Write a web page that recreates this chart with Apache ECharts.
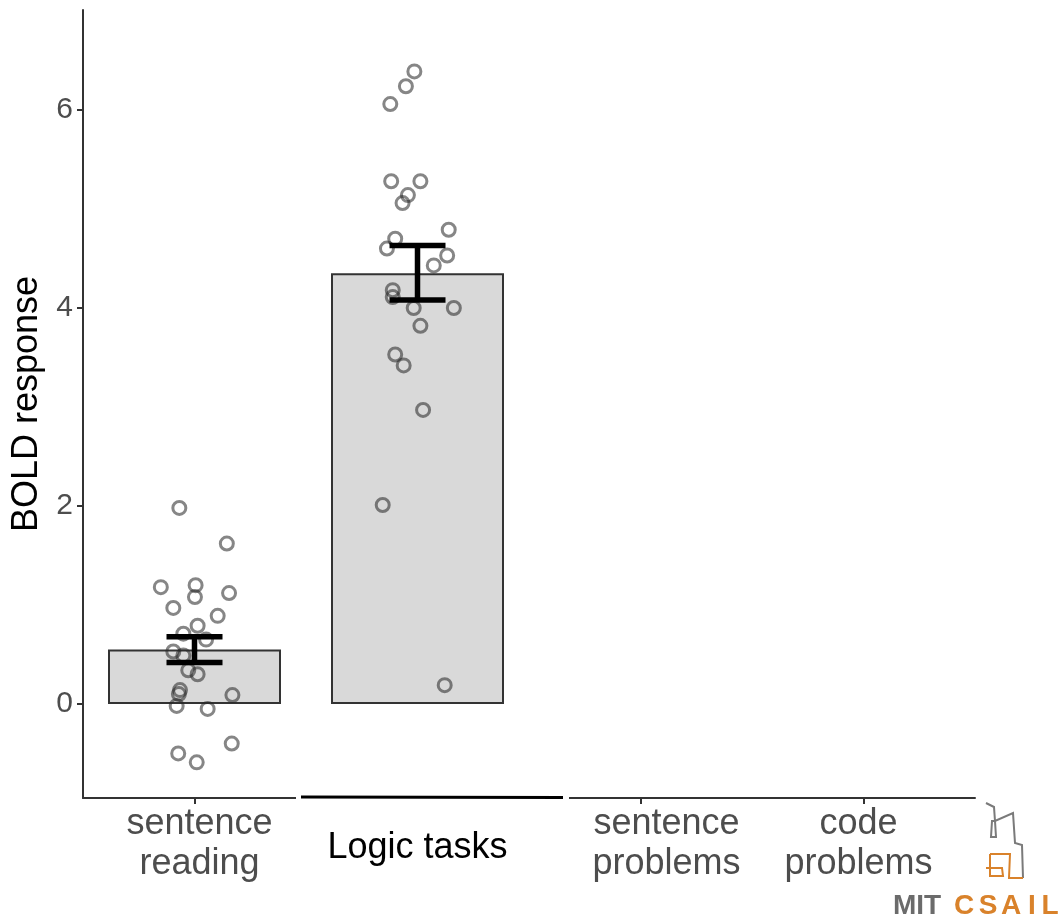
<!DOCTYPE html>
<html>
<head>
<meta charset="utf-8">
<title>BOLD response by condition</title>
<script src="https://cdn.jsdelivr.net/npm/echarts@6/dist/echarts.min.js"></script>
<style>
  html, body { margin: 0; padding: 0; background: #ffffff; }
  #chart { width: 1061px; height: 924px; }
</style>
</head>
<body>
<div id="chart"></div>
<script>
// Conditions along the x axis
const categories = ['sentence\nreading', 'Logic tasks', 'sentence\nproblems', 'code\nproblems'];

// Group means (bar heights) and standard-error limits
const barMeans = [0.55, 4.35, null, null];
const errLow = [0.42, 4.08];
const errHigh = [0.68, 4.63];

// Individual participants: response values and horizontal jitter (in category widths)
const readingValues = [1.98, 1.62, 1.18, 1.20, 1.08, 1.12, 0.97, 0.89, 0.79, 0.71, 0.65, 0.53,
  0.49, 0.34, 0.30, 0.14, 0.10, 0.09, -0.02, -0.05, -0.40, -0.50, -0.59];
const readingJitter = [-0.068, 0.145, -0.151, 0.005, 0.002, 0.155, -0.095, 0.104, 0.014, -0.050, 0.052, -0.095,
  -0.050, -0.028, 0.014, -0.065, -0.070, 0.170, -0.080, 0.059, 0.167, -0.073, 0.010];
const logicValues = [6.39, 6.24, 6.06, 5.28, 5.28, 5.14, 5.06, 4.79, 4.70, 4.60, 4.53, 4.43,
  4.18, 4.11, 4.00, 4.00, 3.82, 3.53, 3.42, 2.97, 2.01, 0.19];
const logicJitter = [-0.014, -0.052, -0.122, -0.118, 0.013, -0.043, -0.067, 0.140, -0.100, -0.137, 0.133, 0.073,
  -0.111, -0.111, -0.017, 0.163, 0.013, -0.100, -0.062, 0.025, -0.156, 0.122];

// Y axis tick labels
const yTicks = [0, 2, 4, 6];

const chart = echarts.init(document.getElementById('chart'), null, { renderer: 'canvas' });

const pointsFor = (catIndex, values, jitter) => values.map((v, i) => [catIndex + jitter[i], v]);

const labelGrey = '#4d4d4d';
const axisGrey = '#333333';
const FONT = 'Liberation Sans, Arial, Helvetica, sans-serif';

// per-label nudges so each name sits under its own column
const labelPads = [[0, 0, 0, 10], [24, 0, 0, 0], [0, 0, 0, 52], [0, 10, 0, 0]];
const labelColors = [labelGrey, '#000000', labelGrey, labelGrey];

const pointStyle = { color: 'rgba(0,0,0,0)', borderColor: 'rgba(40,40,40,0.7)', borderWidth: 3 };

// logo lettering
const logoLetters = ['C', 'S', 'A', 'I', 'L'];
const logoLetterX = [964, 988, 1011, 1032, 1050];

const option = {
  backgroundColor: '#ffffff',
  animation: false,
  grid: { left: 83, right: 86, top: 10, bottom: 126, containLabel: false },
  xAxis: [
    {
      type: 'category',
      data: categories.map((c, i) => ({
        value: c,
        textStyle: { color: labelColors[i], padding: labelPads[i] }
      })),
      axisLine: { show: true, onZero: false, lineStyle: { color: axisGrey, width: 2 } },
      axisTick: { show: true, alignWithLabel: true, length: 6, lineStyle: { color: axisGrey, width: 2 } },
      axisLabel: {
        interval: 0, margin: 6, fontSize: 36, lineHeight: 40,
        fontFamily: FONT, color: labelGrey
      },
      splitLine: { show: false }
    },
    {
      type: 'value', min: -0.5, max: 3.5, show: false
    }
  ],
  yAxis: {
    type: 'value',
    min: -0.95,
    max: 7.01,
    name: 'BOLD response',
    nameLocation: 'middle',
    nameGap: 36,
    nameRotate: 90,
    nameTextStyle: { fontSize: 36, fontFamily: FONT, color: '#000000' },
    axisLine: { show: true, onZero: false, lineStyle: { color: axisGrey, width: 2 } },
    axisTick: { show: true, length: 6, customValues: yTicks, lineStyle: { color: axisGrey, width: 2 } },
    axisLabel: { customValues: yTicks, fontSize: 30, fontFamily: FONT, color: labelGrey, margin: 10 },
    splitLine: { show: false }
  },
  series: [
    {
      type: 'bar',
      xAxisIndex: 0,
      data: barMeans,
      barWidth: 173,
      itemStyle: { color: '#d9d9d9', borderColor: axisGrey, borderWidth: 2 },
      z: 1,
      silent: true
    },
    {
      type: 'scatter',
      xAxisIndex: 1,
      data: pointsFor(0, readingValues, readingJitter),
      symbol: 'circle',
      symbolSize: 13,
      itemStyle: pointStyle,
      z: 3
    },
    {
      type: 'scatter',
      xAxisIndex: 1,
      data: pointsFor(1, logicValues, logicJitter),
      symbol: 'circle',
      symbolSize: 13,
      itemStyle: pointStyle,
      z: 3
    },
    {
      type: 'custom',
      xAxisIndex: 0,
      data: errLow.map((lo, i) => [i, lo, errHigh[i]]),
      z: 5,
      renderItem: function (params, api) {
        const top = api.coord([api.value(0), api.value(2)]);
        const bot = api.coord([api.value(0), api.value(1)]);
        const half = 28;
        const style = { stroke: '#000000', lineWidth: 5.5 };
        return {
          type: 'group',
          children: [
            { type: 'line', shape: { x1: top[0], y1: top[1], x2: bot[0], y2: bot[1] }, style },
            { type: 'line', shape: { x1: top[0] - half, y1: top[1], x2: top[0] + half, y2: top[1] }, style },
            { type: 'line', shape: { x1: bot[0] - half, y1: bot[1], x2: bot[0] + half, y2: bot[1] }, style }
          ]
        };
      }
    }
  ],
  graphic: [
    // relabelled span on the x axis
    { type: 'rect', shape: { x: 296, y: 790, width: 273, height: 20 }, style: { fill: '#ffffff' }, z: 10 },
    { type: 'line', shape: { x1: 301, y1: 797, x2: 563, y2: 797.6 }, style: { stroke: '#000000', lineWidth: 3 }, z: 11 },
    // MIT CSAIL logo
    {
      type: 'polyline', z: 10,
      shape: { points: [[986, 803], [994, 807], [995, 821], [1013, 813], [1015, 843], [1022, 845], [1023, 878]] },
      style: { stroke: '#7a7a7a', lineWidth: 2, fill: null }
    },
    {
      type: 'polyline', z: 10,
      shape: { points: [[995, 821], [992, 821], [991, 837], [996, 837], [995, 821]] },
      style: { stroke: '#7a7a7a', lineWidth: 2, fill: null }
    },
    {
      type: 'polyline', z: 10,
      shape: { points: [[990, 854], [1010, 854], [1009, 878], [1023, 878]] },
      style: { stroke: '#d9822b', lineWidth: 2, fill: null }
    },
    {
      type: 'polyline', z: 10,
      shape: { points: [[986, 868], [1002, 868], [1003, 876], [990, 876], [990, 854]] },
      style: { stroke: '#d9822b', lineWidth: 2, fill: null }
    },
    {
      type: 'text', z: 10, x: 893, y: 920,
      style: { text: 'MIT', fill: '#6b6b6b', font: 'bold 28px ' + FONT, textVerticalAlign: 'bottom' }
    },
    ...logoLetters.map((ch, i) => ({
      type: 'text', z: 10, x: logoLetterX[i], y: 920,
      style: { text: ch, fill: '#d9822b', font: 'bold 28px ' + FONT, textAlign: 'center', textVerticalAlign: 'bottom' }
    }))
  ]
};

chart.setOption(option);
</script>
</body>
</html>
